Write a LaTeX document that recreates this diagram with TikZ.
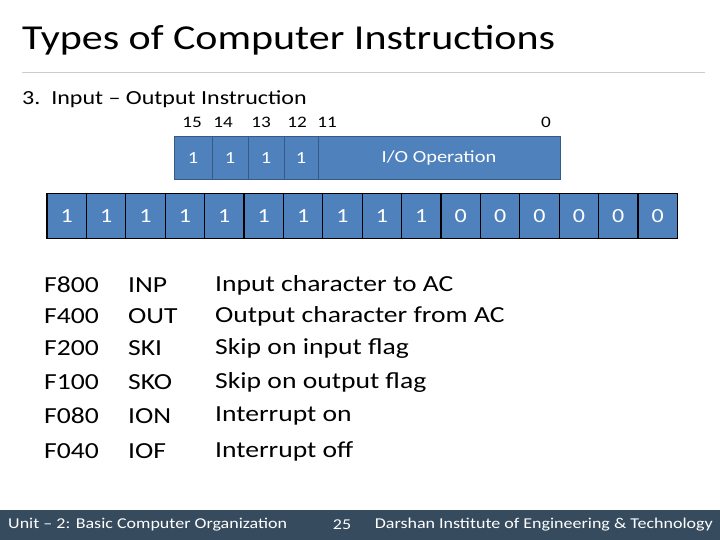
\documentclass[tikz,border=0pt]{standalone}
\usepackage{fontspec}
\usepackage{graphicx}
\setmainfont{Carlito}
\newcommand{\wide}[1]{\scalebox{1.2}[1.0]{#1}}
\definecolor{cellb}{HTML}{4F81BD}
\definecolor{foot}{HTML}{374B5E}
\begin{document}
\begin{tikzpicture}[x=1pt,y=-1pt,
 cell/.style={draw=cellb!70!black,fill=cellb,text=white,font=\fontsize{17}{20}\selectfont,inner sep=0pt,line width=0.8pt},
 bcell/.style={draw=black,fill=cellb,text=white,font=\fontsize{20}{24}\selectfont,inner sep=0pt,line width=1.2pt},
 txt/.style={font=\fontsize{23}{26}\selectfont,anchor=west,inner sep=0pt},
 lbl/.style={font=\fontsize{16}{18}\selectfont,inner sep=0pt}]
\useasboundingbox (0,0) rectangle (720,540);
\node[anchor=west,inner sep=0pt,font=\fontsize{35}{40}\selectfont] (title) at (22,40) {\wide{Types of Computer Instructions}};
\draw[gray!40,line width=0.8pt] (22,72) -- (705,72);
\node[anchor=west,inner sep=0pt,font=\fontsize{20}{24}\selectfont] (sub) at (22,99) {\wide{3.\ \ Input -- Output Instruction}};
% bit numbers
\node[lbl] (b15) at (192,122) {\wide{15}};
\node[lbl] (b14) at (223,122) {\wide{14}};
\node[lbl] (b13) at (261,122) {\wide{13}};
\node[lbl] (b12) at (297,122) {\wide{12}};
\node[lbl] (b11) at (327,122) {\wide{11}};
\node[lbl] (b0) at (546,122) {\wide{0}};
% format box
\foreach \a/\b/\n in {174/212/c1,212/248/c2,248/284/c3,284/318/c4}
  \node[cell,minimum width=\b-\a,minimum height=43] (\n) at ({(\a+\b)/2},158) {\wide{1}};
\node[cell,minimum width=242,minimum height=43] (io) at (439,158) {\wide{I/O Operation}};
% bit row
\foreach \i/\v in {0/1,1/1,2/1,3/1,4/1,5/1,6/1,7/1,8/1,9/1,10/0,11/0,12/0,13/0,14/0,15/0}
  \node[bcell,minimum width=39.4,minimum height=45] (r\i) at ({47+39.4*\i+19.7},216) {\wide{\v}};
% table
\foreach \y/\h/\m/\d [count=\k] in {285/F800/INP/Input character to AC,316/F400/OUT/Output character from AC,348/F200/SKI/Skip on input flag,382/F100/SKO/Skip on output flag,416/F080/ION/Interrupt on,451/F040/IOF/Interrupt off}{
  \node[txt] (h\k) at (44,\y) {\wide{\h}};
  \node[txt] (m\k) at (128,\y) {\wide{\m}};
  \node[txt] (d\k) at (215,\y) {\wide{\d}};
}
% footer
\fill[foot] (0,510) rectangle (720,540);
\node[anchor=west,text=white,inner sep=0pt,font=\fontsize{15}{18}\selectfont] (f1) at (8,525) {\wide{Unit -- 2: Basic Computer Organization}};
\node[text=white,inner sep=0pt,font=\fontsize{15}{18}\selectfont] (f2) at (342,525) {\wide{25}};
\node[anchor=east,text=white,inner sep=0pt,font=\fontsize{15}{18}\selectfont] (f3) at (713,525) {\wide{Darshan Institute of Engineering \& Technology}};
\end{tikzpicture}
\end{document}
